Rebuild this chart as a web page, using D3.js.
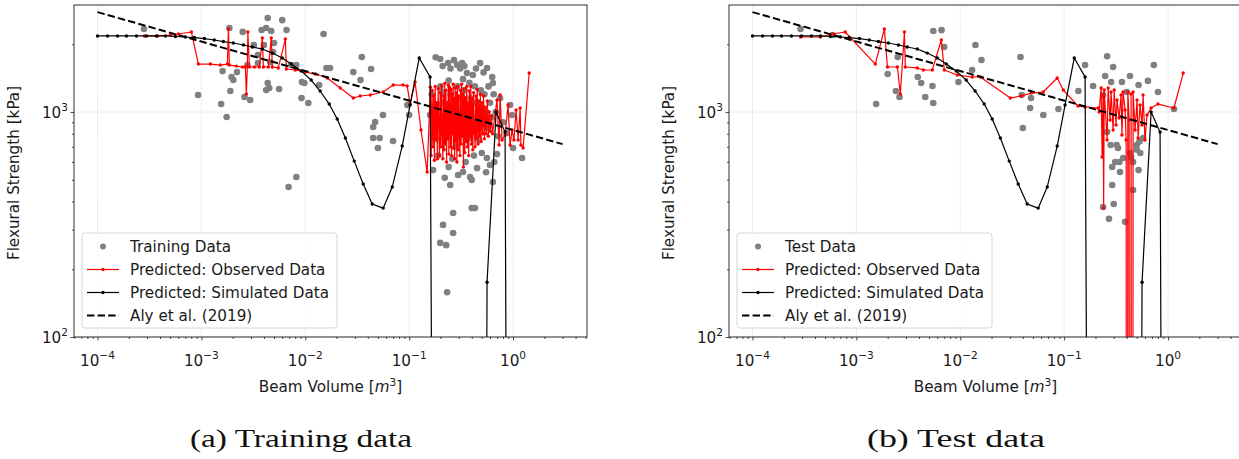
<!DOCTYPE html>
<html>
<head>
<meta charset="utf-8">
<script src="https://cdn.jsdelivr.net/npm/d3@7"></script>
<style>
  html, body { margin: 0; padding: 0; background: #fff; }
  svg { display: block; }
</style>
</head>
<body>
<div id="chart"></div>
<script>
// Beam volume vs flexural strength, log-log, training (a) and test (b) panels.
// Data: [volume m^3, strength kPa].
const X_MAJOR = [1e-4, 1e-3, 1e-2, 1e-1, 1e0];
const X_EXP = ["\u22124", "\u22123", "\u22122", "\u22121", "0"];
const Y_MAJOR = [1e2, 1e3];
const Y_EXP = ["2", "3"];
const X_DOMAIN = [5.94e-5, 5.15];
const Y_DOMAIN = [100, 2990];
const BELOW = 1e-6; // model output <= 0, falls off the log axis

const ALY = [[1e-4, 2780], [3, 720]];

const SIM = [
  [1.0e-4, 2178], [1.25e-4, 2178], [1.56e-4, 2178], [1.9e-4, 2178], [2.37e-4, 2178], [2.96e-4, 2178],
  [3.69e-4, 2178], [4.51e-4, 2178], [5.62e-4, 2166], [7.02e-4, 2155], [8.57e-4, 2143], [1.07e-3, 2121],
  [1.33e-3, 2090], [1.63e-3, 2057], [2.03e-3, 2027], [2.54e-3, 1986], [3.09e-3, 1946], [3.86e-3, 1906],
  [4.82e-3, 1828], [6.01e-3, 1738], [7.33e-3, 1634], [9.15e-3, 1521], [1.14e-2, 1387], [1.39e-2, 1240],
  [1.70e-2, 1085], [2.03e-2, 931], [2.43e-2, 766], [2.96e-2, 605], [3.61e-2, 479], [4.41e-2, 390],
  [5.62e-2, 374], [6.87e-2, 464], [8.57e-2, 706], [0.102, 1074], [0.125, 1738], [0.159, 1431],
  [0.199, BELOW], [0.248, BELOW], [0.309, BELOW], [0.386, BELOW], [0.482, BELOW],
  [0.562, 175], [0.687, 1000], [0.838, 815], [1.0, BELOW]
];

const TRAIN_PTS = [
  [2.8e-4, 2339], [9.3e-4, 1190], [1.55e-3, 1085], [1.6e-3, 1520], [1.75e-3, 950], [1.86e-3, 2362],
  [1.9e-3, 1240], [1.95e-3, 1430], [2.03e-3, 1387], [2.2e-3, 1505], [2.5e-3, 2270], [2.6e-3, 1166],
  [2.77e-3, 1617], [2.95e-3, 1131], [3.2e-3, 1986], [3.5e-3, 1792], [3.5e-3, 1650], [3.8e-3, 2316],
  [4.0e-3, 1986], [4.2e-3, 2362], [4.2e-3, 1253], [4.35e-3, 2617], [4.35e-3, 1345], [4.5e-3, 1278],
  [4.6e-3, 1667], [4.7e-3, 2293], [4.9e-3, 1848], [5.0e-3, 2027], [5.6e-3, 1265], [6.0e-3, 2560],
  [6.6e-3, 2316], [6.9e-3, 464], [7.3e-3, 1617], [8.2e-3, 1617], [8.2e-3, 514], [9.2e-3, 1153],
  [9.3e-3, 1360], [9.8e-3, 1345], [1.07e-2, 1096], [1.36e-2, 1318], [1.5e-2, 2222], [1.6e-2, 1568],
  [0.0173, 1568], [0.029, 1505], [0.034, 1387], [0.035, 1755], [0.043, 1552], [0.045, 858],
  [0.045, 766], [0.047, 903], [0.050, 692], [0.052, 766], [0.056, 970], [0.070, 743], [0.096, 1074],
  [0.10, 970],
  [0.199, 1720], [0.237, 1650], [0.323, 1650], [0.482, 1650], [0.562, 1570], [0.36, 1490], [0.41, 1460],
  [0.63, 1430], [0.64, 1345], [0.18, 1750], [0.21, 1600], [0.25, 1560], [0.27, 1700], [0.29, 1620],
  [0.31, 1560], [0.34, 1600], [0.44, 1560], [0.52, 1500],
  [0.936, 1074], [0.978, 970], [1.0, 692], [1.22, 625], [0.87, 806], [0.75, 1150], [0.8, 900], [0.72, 780],
  [0.17, 552], [0.185, 1074], [0.165, 1200], [0.17, 900], [0.18, 760], [0.159, 970], [0.208, 1227],
  [0.2, 1300], [0.21, 1100], [0.22, 950], [0.23, 820], [0.24, 1380], [0.25, 1200], [0.26, 1000],
  [0.27, 880], [0.28, 700], [0.29, 1300], [0.3, 1150], [0.31, 980], [0.32, 820], [0.33, 1400],
  [0.34, 1250], [0.35, 1050], [0.36, 900], [0.37, 760], [0.38, 1350], [0.39, 1150], [0.4, 950],
  [0.42, 820], [0.43, 1300], [0.44, 1100], [0.46, 900], [0.47, 750], [0.49, 1250], [0.5, 1050],
  [0.51, 880], [0.53, 1200], [0.55, 1000], [0.57, 850], [0.58, 1300], [0.6, 1100], [0.62, 950],
  [0.65, 1200], [0.68, 1000],
  [0.22, 510], [0.248, 474], [0.296, 525], [0.33, 541], [0.386, 514], [0.40, 499], [0.45, 563],
  [0.60, 581], [0.64, 488], [0.56, 625], [0.50, 657], [0.26, 620], [0.35, 600], [0.42, 640],
  [0.19, 640], [0.24, 570], [0.55, 540], [0.66, 600], [0.7, 650],
  [0.265, 356], [0.212, 315], [0.265, 290], [0.199, 262], [0.227, 256], [0.232, 158], [0.40, 374], [0.43, 374]
];

const TRAIN_PRED = [
  [2.83e-4, 2178], [3.78e-4, 2178], [5.04e-4, 2198], [6.01e-4, 2222], [8.02e-4, 2268], [9.35e-4, 1634],
  [1.22e-3, 1634], [1.52e-3, 1617], [1.78e-3, 1634], [1.82e-3, 2339], [1.86e-3, 1617], [2.17e-3, 1600],
  [2.48e-3, 1585], [2.65e-3, 1585], [2.71e-3, 1202], [2.77e-3, 1600], [2.80e-3, 2268], [2.9e-3, 1585],
  [3.24e-3, 1585], [3.61e-3, 1585], [3.86e-3, 2133], [3.95e-3, 1585], [4.41e-3, 1585], [4.71e-3, 2133],
  [4.82e-3, 1585], [5.5e-3, 1570], [6.43e-3, 2110], [6.57e-3, 1553], [8.01e-3, 1537], [1.0e-2, 1506],
  [1.25e-2, 1475], [1.63e-2, 1416], [2.17e-2, 1278], [2.9e-2, 1154], [3.38e-2, 1178], [4.22e-2, 1190],
  [5.62e-2, 1227], [7.02e-2, 1318], [8.75e-2, 1318], [9.57e-2, 1305], [0.102, 1085], [0.114, 1359],
  [0.130, 832], [0.149, 541],
  [0.160, 1290], [0.163, 640], [0.166, 1250], [0.169, 700], [0.172, 1180], [0.175, 610], [0.178, 1300],
  [0.181, 760], [0.184, 1100], [0.187, 620], [0.190, 1270], [0.193, 900], [0.196, 640], [0.199, 1220],
  [0.202, 700], [0.205, 1310], [0.208, 820], [0.211, 620], [0.214, 1180], [0.217, 680], [0.220, 1340],
  [0.223, 720], [0.226, 1250], [0.229, 600], [0.232, 1100], [0.235, 760], [0.238, 1320], [0.241, 650],
  [0.244, 1290], [0.247, 900], [0.250, 700], [0.253, 1260], [0.256, 640], [0.259, 1200], [0.262, 800],
  [0.265, 1330], [0.268, 690], [0.271, 1150], [0.274, 620], [0.277, 1280], [0.280, 740], [0.284, 1220],
  [0.288, 600], [0.292, 1300], [0.296, 680], [0.300, 1180], [0.304, 860], [0.308, 640], [0.312, 1250],
  [0.316, 720], [0.320, 1330], [0.324, 780], [0.328, 1200], [0.333, 570], [0.338, 1270], [0.343, 660],
  [0.348, 1160], [0.353, 740], [0.358, 1300], [0.363, 700], [0.368, 1100], [0.374, 640], [0.380, 1240],
  [0.386, 780], [0.392, 1300], [0.398, 720], [0.404, 1150], [0.410, 680], [0.417, 1220], [0.424, 820],
  [0.431, 700], [0.438, 1180], [0.445, 760], [0.452, 1260], [0.460, 720], [0.468, 1120], [0.476, 780],
  [0.484, 1200], [0.492, 740], [0.500, 1100], [0.510, 800], [0.520, 1180], [0.530, 760], [0.540, 1050],
  [0.552, 800], [0.565, 1120], [0.578, 780], [0.590, 1000], [0.605, 820], [0.620, 960], [0.635, 800],
  [0.70, 1131], [0.734, 713], [0.75, 1190], [0.784, 751], [0.838, 790], [0.895, 1074], [0.936, 713],
  [0.978, 832], [1.02, 751], [1.07, 1021], [1.12, 751], [1.17, 1042], [1.19, 713], [1.25, 692], [1.43, 1490]
];

const TEST_PTS = [
  [2.9e-4, 2339], [5.9e-4, 2200], [1.55e-3, 1085], [2.0e-3, 1475], [2.5e-3, 1755], [2.4e-3, 1240],
  [2.6e-3, 1166], [3.9e-3, 1430], [4.2e-3, 1345], [4.6e-3, 1166], [5.4e-3, 1305], [5.5e-3, 1096],
  [5.5e-3, 2290], [6.6e-3, 2312], [7.0e-3, 1946], [9.6e-3, 1359], [1.3e-2, 1537], [1.4e-2, 1986],
  [1.6e-2, 1702], [3.8e-2, 1755], [3.9e-2, 1190], [4.0e-2, 849], [4.7e-2, 1042], [4.8e-2, 1154],
  [6.3e-2, 970], [8.8e-2, 1031], [0.137, 1240], [0.159, 1617], [0.19, 1305], [0.259, 1770],
  [0.296, 1585], [0.248, 1445], [0.283, 1359], [0.237, 1190], [0.36, 1359], [0.43, 1445], [0.52, 1318],
  [0.64, 1375], [0.73, 1617], [0.80, 1227], [1.14, 1031], [0.40, 1227],
  [0.259, 816], [0.28, 713], [0.33, 692], [0.37, 625], [0.31, 600], [0.43, 657], [0.50, 713],
  [0.54, 657], [0.46, 600], [0.52, 552], [0.46, 450], [0.29, 570], [0.29, 474], [0.30, 390],
  [0.237, 378], [0.27, 335], [0.386, 325], [0.575, 766], [0.345, 541], [0.32, 713], [0.34, 600],
  [0.50, 680], [0.53, 740], [0.44, 630]
];

const TEST_PRED = [
  [2.9e-4, 2155], [4.5e-4, 2155], [5.9e-4, 2222], [7.8e-4, 2268], [1.52e-3, 1634], [1.86e-3, 2339],
  [1.99e-3, 1585], [2.48e-3, 1585], [2.65e-3, 1202], [2.9e-3, 2268], [2.96e-3, 1585], [3.86e-3, 1570],
  [4.41e-3, 1537], [5.38e-3, 1537], [6.57e-3, 2090], [7.02e-3, 1537], [9.35e-3, 1460], [1.3e-2, 1431],
  [1.56e-2, 1431], [3.03e-2, 1154], [3.86e-2, 1178], [4.82e-2, 1214], [6.28e-2, 1227], [8.57e-2, 1416],
  [9.8e-2, 1253], [0.136, 1063], [0.159, 1053], [0.212, 1042],
  [0.217, 1000], [0.227, 1278], [0.232, 631], [0.237, 1190], [0.24, 374], [0.243, 1253], [0.259, 751],
  [0.265, 1278], [0.277, 921], [0.283, 1227], [0.296, 832], [0.303, 1253], [0.316, 875], [0.323, 1131],
  [0.338, 940], [0.353, 1190], [0.36, 790], [0.369, 1227], [0.386, 1021], [0.395, 751], [0.403, BELOW],
  [0.41, 1227], [0.422, 921], [0.43, BELOW], [0.441, 1202], [0.45, BELOW], [0.461, 1227], [0.482, 832],
  [0.503, 1131], [0.515, 766], [0.538, 1074], [0.562, 875], [0.575, 1190], [0.60, 751], [0.628, 970],
  [0.687, 1042], [0.80, 1085], [1.14, 1042], [1.40, 1490]
];

const PANELS = [
  { left: 74, id: "a", pts: TRAIN_PTS, pred: TRAIN_PRED, dataName: "Training Data", caption: "(a) Training data", capW: 222 },
  { left: 729, id: "b", pts: TEST_PTS, pred: TEST_PRED, dataName: "Test Data", caption: "(b) Test data", capW: 178 }
];

const W = 1239, H = 459, PW = 513, TOP = 5, BOT = 337;
const FONT = "'DejaVu Sans', sans-serif";
const FS = 15.2, SUP = 10.6;
const INK = "#1a1a1a";

const svg = d3.select("#chart").append("svg").attr("width", W).attr("height", H);
const defs = svg.append("defs");

PANELS.forEach(p => {
  const x = d3.scaleLog().domain(X_DOMAIN).range([p.left, p.left + PW]);
  const y = d3.scaleLog().domain(Y_DOMAIN).range([BOT, TOP]);
  const g = svg.append("g");

  defs.append("clipPath").attr("id", "clip-" + p.id)
    .append("rect").attr("x", p.left).attr("y", TOP).attr("width", PW).attr("height", BOT - TOP);

  // 网格
  X_MAJOR.forEach(v => g.append("line").attr("x1", x(v)).attr("x2", x(v)).attr("y1", TOP).attr("y2", BOT)
    .attr("stroke", "#c8c8c8").attr("stroke-width", 0.8).attr("stroke-dasharray", "1,1.6"));
  Y_MAJOR.forEach(v => g.append("line").attr("x1", p.left).attr("x2", p.left + PW).attr("y1", y(v)).attr("y2", y(v))
    .attr("stroke", "#c8c8c8").attr("stroke-width", 0.8).attr("stroke-dasharray", "1,1.6"));

  const plot = g.append("g").attr("clip-path", `url(#clip-${p.id})`);
  const line = d3.line().x(d => x(d[0])).y(d => y(d[1]));

  plot.append("g").selectAll("circle").data(p.pts).join("circle")
    .attr("cx", d => x(d[0])).attr("cy", d => y(d[1])).attr("r", 3.3).attr("fill", "#808080");

  plot.append("path").datum(p.pred).attr("d", line).attr("fill", "none")
    .attr("stroke", "#ff0000").attr("stroke-width", 1.2).attr("stroke-linejoin", "round");
  plot.append("g").selectAll("circle").data(p.pred.filter(d => d[1] > 1)).join("circle")
    .attr("cx", d => x(d[0])).attr("cy", d => y(d[1])).attr("r", 1.7).attr("fill", "#ff0000");

  plot.append("path").datum(SIM).attr("d", line).attr("fill", "none")
    .attr("stroke", "#000").attr("stroke-width", 1.2);
  plot.append("g").selectAll("circle").data(SIM.filter(d => d[1] > 1)).join("circle")
    .attr("cx", d => x(d[0])).attr("cy", d => y(d[1])).attr("r", 1.7).attr("fill", "#000");

  plot.append("path").datum(ALY).attr("d", line).attr("fill", "none")
    .attr("stroke", "#000").attr("stroke-width", 2).attr("stroke-dasharray", "7.4,3.2");

  // 坐标轴
  const xMinor = [], yMinor = [];
  for (let k = -5; k <= 0; k++) for (let m = 2; m <= 9; m++) {
    const v = m * Math.pow(10, k);
    if (v > X_DOMAIN[0] && v < X_DOMAIN[1]) xMinor.push(v);
  }
  for (let k = 2; k <= 3; k++) for (let m = 2; m <= 9; m++) {
    const v = m * Math.pow(10, k);
    if (v > Y_DOMAIN[0] && v < Y_DOMAIN[1]) yMinor.push(v);
  }
  const axStyle = s => { s.select(".domain").remove(); s.selectAll("line").attr("stroke", INK).attr("stroke-width", 0.8); };
  g.append("g").attr("transform", `translate(0,${BOT})`)
    .call(d3.axisBottom(x).tickValues(X_MAJOR).tickSize(3.5).tickFormat(() => "")).call(axStyle);
  g.append("g").attr("transform", `translate(0,${BOT})`)
    .call(d3.axisBottom(x).tickValues(xMinor).tickSize(2).tickFormat(() => "")).call(axStyle);
  g.append("g").attr("transform", `translate(${p.left},0)`)
    .call(d3.axisLeft(y).tickValues(Y_MAJOR).tickSize(3.5).tickFormat(() => "")).call(axStyle);
  g.append("g").attr("transform", `translate(${p.left},0)`)
    .call(d3.axisLeft(y).tickValues(yMinor).tickSize(2).tickFormat(() => "")).call(axStyle);

  g.append("rect").attr("x", p.left).attr("y", TOP).attr("width", PW).attr("height", BOT - TOP)
    .attr("fill", "none").attr("stroke", INK).attr("stroke-width", 0.9);

  X_MAJOR.forEach((v, i) => {
    const t = g.append("text").attr("x", x(v)).attr("y", BOT + 29).attr("text-anchor", "middle")
      .attr("style", `font:${FS}px ${FONT};fill:${INK}`);
    t.append("tspan").text("10");
    t.append("tspan").attr("dy", -7).attr("font-size", SUP).text(X_EXP[i]);
  });
  Y_MAJOR.forEach((v, i) => {
    const t = g.append("text").attr("x", p.left - 6).attr("y", y(v) + 6).attr("text-anchor", "end")
      .attr("style", `font:${FS}px ${FONT};fill:${INK}`);
    t.append("tspan").text("10");
    t.append("tspan").attr("dy", -7).attr("font-size", SUP).text(Y_EXP[i]);
  });

  const xl = g.append("text").attr("x", p.left + PW / 2).attr("y", BOT + 55).attr("text-anchor", "middle")
    .attr("style", `font:${FS}px ${FONT};fill:${INK}`);
  xl.append("tspan").text("Beam Volume [");
  xl.append("tspan").attr("font-style", "italic").text("m");
  xl.append("tspan").attr("dy", -6).attr("font-size", SUP).text("3");
  xl.append("tspan").attr("dy", 6).text("]");

  g.append("text").attr("transform", `translate(${p.left - 55},${(TOP + BOT) / 2 + 2}) rotate(-90)`)
    .attr("text-anchor", "middle").attr("style", `font:${FS}px ${FONT};fill:${INK}`)
    .text("Flexural Strength [kPa]");

  // 图例
  const lg = g.append("g").attr("transform", `translate(${p.left + 8},233)`);
  lg.append("rect").attr("width", 255).attr("height", 95).attr("rx", 3)
    .attr("fill", "#fff").attr("fill-opacity", 0.8).attr("stroke", "#d6d6d6");
  const items = [
    { t: p.dataName, kind: "dot" },
    { t: "Predicted: Observed Data", kind: "line", c: "#ff0000" },
    { t: "Predicted: Simulated Data", kind: "line", c: "#000" },
    { t: "Aly et al. (2019)", kind: "dash" }
  ];
  items.forEach((it, i) => {
    const cy = 13.5 + i * 23;
    if (it.kind === "dot") {
      lg.append("circle").attr("cx", 21).attr("cy", cy).attr("r", 3).attr("fill", "#808080");
    } else if (it.kind === "line") {
      lg.append("line").attr("x1", 5).attr("x2", 37).attr("y1", cy).attr("y2", cy)
        .attr("stroke", it.c).attr("stroke-width", 1.2);
      lg.append("circle").attr("cx", 21).attr("cy", cy).attr("r", 1.7).attr("fill", it.c);
    } else {
      lg.append("line").attr("x1", 5).attr("x2", 37).attr("y1", cy).attr("y2", cy)
        .attr("stroke", "#000").attr("stroke-width", 2).attr("stroke-dasharray", "7.4,3.2");
    }
    lg.append("text").attr("x", 48).attr("y", cy + 5.5).attr("style", `font:${FS}px ${FONT};fill:${INK}`).text(it.t);
  });

  svg.append("text").attr("x", p.left + 227).attr("y", 447).attr("text-anchor", "middle")
    .attr("textLength", p.capW).attr("lengthAdjust", "spacingAndGlyphs")
    .attr("style", "font:26px 'Liberation Serif', serif;fill:#111")
    .text(p.caption);
});
</script>
</body>
</html>
